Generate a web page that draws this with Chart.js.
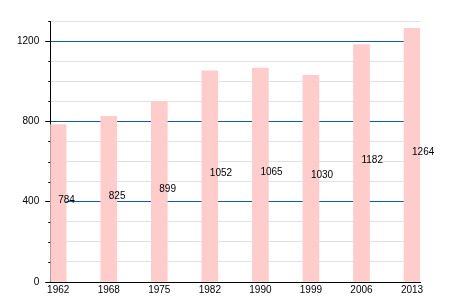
<!DOCTYPE html>
<html>
<head>
<meta charset="utf-8">
<script src="https://cdn.jsdelivr.net/npm/chart.js@4/dist/chart.umd.min.js"></script>
<style>
    html, body { margin: 0; padding: 0; background: #fff; }
    #wrap { width: 450px; height: 300px; }
</style>
</head>
<body>
<div id="wrap"><canvas id="chart" width="450" height="300"></canvas></div>
<script>
const years = ['1962', '1968', '1975', '1982', '1990', '1999', '2006', '2013'];
const population = [784, 825, 899, 1052, 1065, 1030, 1182, 1264];
const yMax = 1300;
const majorStep = 400;
const minorStep = 100;

// bar value written half way up the bar, starting at its centre
const barLabels = {
    id: 'barLabels',
    afterDraw(chart) {
        const ctx = chart.ctx;
        const meta = chart.getDatasetMeta(0);
        ctx.save();
        ctx.font = '10px "Liberation Sans", Arial, sans-serif';
        ctx.fillStyle = '#000';
        ctx.textAlign = 'left';
        ctx.textBaseline = 'alphabetic';
        meta.data.forEach((bar, i) => {
            const mid = (bar.y + bar.base) / 2;
            ctx.fillText(String(population[i]), bar.x, mid);
        });
        ctx.restore();
    }
};

// short ticks for the minor steps
const minorTicks = {
    id: 'minorTicks',
    afterDraw(chart) {
        const y = chart.scales.y;
        const ctx = chart.ctx;
        ctx.save();
        ctx.strokeStyle = '#000';
        ctx.lineWidth = 1;
        for (let v = 0; v <= yMax; v += minorStep) {
            if (v % majorStep === 0) continue;
            const py = Math.round(y.getPixelForValue(v)) + 0.5;
            ctx.beginPath();
            ctx.moveTo(y.right - 2, py);
            ctx.lineTo(y.right, py);
            ctx.stroke();
        }
        ctx.restore();
    }
};

new Chart(document.getElementById('chart'), {
    type: 'bar',
    data: {
        datasets: [{
            data: population.map((v, i) => ({ x: i, y: v })),
            backgroundColor: '#ffcccc',
            borderWidth: 0,
            barThickness: 16
        }]
    },
    options: {
        responsive: false,
        animation: false,
        layout: { padding: { left: 11, right: 30, top: 21, bottom: 2 } },
        plugins: {
            legend: { display: false },
            tooltip: { enabled: false }
        },
        scales: {
            x: {
                type: 'linear',
                offset: false,
                min: -0.158,
                max: 7.158,
                afterBuildTicks: (scale) => {
                    scale.ticks = years.map((y, i) => ({ value: i }));
                },
                grid: { display: false, drawTicks: false },
                border: { color: '#000', width: 1 },
                ticks: {
                    autoSkip: false,
                    maxRotation: 0,
                    padding: 2,
                    color: '#000',
                    font: { family: '"Liberation Sans", Arial, sans-serif', size: 10 },
                    callback: (v) => years[v]
                }
            },
            y: {
                min: 0,
                max: yMax,
                z: 1,
                grid: {
                    color: (c) => c.tick.value === 0 ? 'rgba(0,0,0,0)' : (c.tick.value % majorStep === 0 ? '#0b5cad' : '#e2e2e2'),
                    tickColor: (c) => c.tick.value % majorStep === 0 ? '#000' : 'rgba(0,0,0,0)',
                    tickLength: 5,
                    lineWidth: 1
                },
                border: { color: '#000', width: 1 },
                ticks: {
                    stepSize: minorStep,
                    autoSkip: false,
                    padding: 6,
                    color: '#000',
                    font: { family: '"Liberation Sans", Arial, sans-serif', size: 10 },
                    callback: (v) => v % majorStep === 0 ? String(v) : ''
                }
            }
        }
    },
    plugins: [barLabels, minorTicks]
});
</script>
</body>
</html>
